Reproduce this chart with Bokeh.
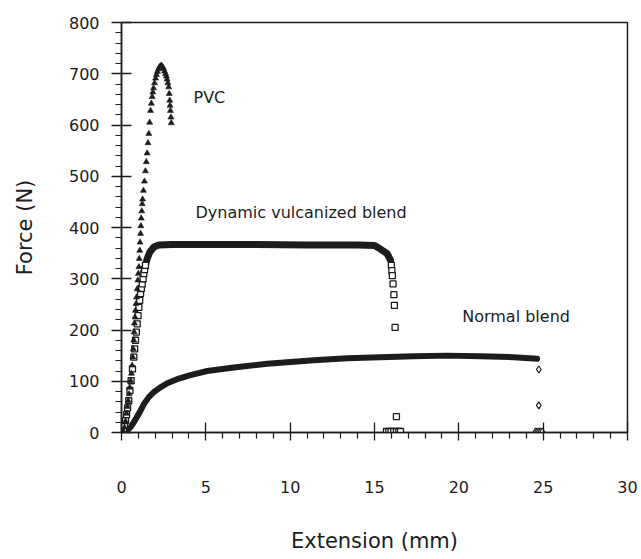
from bokeh.plotting import figure
from bokeh.models import Range1d, FixedTicker
from bokeh.core.properties import value
from bokeh.embed import file_html
from bokeh.resources import INLINE

# ---------------- data ----------------
x_ticks = [0, 5, 10, 15, 20, 25, 30]
y_ticks = [0, 100, 200, 300, 400, 500, 600, 700, 800]

# PVC (triangles)
pvc_x = [0.05, 0.10, 0.18, 0.24, 0.30, 0.35, 0.40, 0.45, 0.49, 0.54, 0.59, 0.63, 0.67, 0.70,
         0.73, 0.75, 0.77, 0.80, 0.83, 0.86, 0.89, 0.93, 0.97, 1.00, 1.03, 1.05, 1.08, 1.10,
         1.13, 1.15, 1.17, 1.20, 1.23, 1.25, 1.30, 1.36, 1.42, 1.47, 1.52, 1.57, 1.62, 1.67,
         1.72, 1.77, 1.82, 1.86, 1.90, 1.96, 2.02, 2.07, 2.13, 2.19, 2.25, 2.31, 2.37, 2.43,
         2.49, 2.55, 2.61, 2.66, 2.70, 2.75, 2.80, 2.83, 2.86, 2.88, 2.90, 2.93, 2.95]
pvc_y = [0, 3, 10, 22, 37, 50, 62, 75, 88, 101, 115, 131, 147, 163,
         180, 196, 213, 225, 238, 251, 264, 280, 297, 310, 323, 339, 355, 371,
         388, 403, 418, 432, 446, 455, 472, 490, 510, 528, 545, 565, 583, 605,
         628, 642, 655, 664, 672, 682, 691, 698, 704, 709, 713, 715, 716, 714,
         710, 705, 700, 695, 689, 682, 674, 661, 648, 638, 628, 615, 604]

# Dynamic vulcanized blend: rising part (open squares)
dyn_rise_x = [0.05, 0.12, 0.18, 0.24, 0.30, 0.36, 0.43, 0.50, 0.57, 0.65, 0.73, 0.78, 0.83,
              0.88, 0.93, 0.98, 1.03, 1.08, 1.13, 1.18, 1.23, 1.28, 1.32, 1.37, 1.42]
dyn_rise_y = [0, 6, 14, 23, 35, 48, 62, 82, 101, 124, 147, 163, 180,
              196, 212, 228, 244, 258, 271, 281, 290, 300, 310, 318, 326]
# dense band (plateau)
dyn_band_x = [1.42, 1.52, 1.68, 1.92, 2.21, 3.0, 5.0, 8.0, 11.0, 14.0, 15.0, 15.35, 15.75, 15.95]
dyn_band_y = [326, 339, 352, 362, 366, 367, 367, 367, 366, 366, 365, 358, 349, 336]
# failure drop (open squares)
dyn_drop_x = [16.00, 16.03, 16.06, 16.10, 16.15, 16.18, 16.22, 16.30,
              15.71, 15.85, 15.98, 16.14, 16.30, 16.44, 16.54]
dyn_drop_y = [326, 316, 306, 290, 269, 248, 205, 31,
              2, 2, 2, 2, 2, 2, 2]

# Normal blend: dense band (diamonds)
nb_band_x = [0.20, 0.34, 0.53, 0.73, 0.93, 1.13, 1.32, 1.62, 1.92, 2.31, 2.71, 3.30, 4.09,
             5.08, 6.66, 8.64, 10.61, 11.40, 13.38, 15.35, 17.33, 19.31, 21.28, 23.25, 24.64]
nb_band_y = [2, 4, 10, 20, 31, 43, 55, 69, 79, 88, 96, 104, 112,
             120, 127, 134, 139, 141, 145, 147, 149, 150, 149, 147, 144]
# failure drop (diamonds)
nb_drop_x = [24.74, 24.74, 24.55, 24.65, 24.75, 24.85, 24.95]
nb_drop_y = [123, 53, 2, 2, 2, 2, 2]

labels_text = ["PVC", "Dynamic vulcanized blend", "Normal blend"]
labels_x = [4.27, 4.39, 20.2]
labels_y = [654, 429, 226]

# ---------------- figure ----------------
FONT = "DejaVu Sans"
INK = "#1c1c1c"

p = figure(width=641, height=559,
           x_range=Range1d(0, 30), y_range=Range1d(0, 800),
           output_backend="svg", toolbar_location=None,
           min_border_left=121, min_border_right=14,
           min_border_top=22, min_border_bottom=127)

p.background_fill_color = "white"
p.border_fill_color = "white"
p.grid.visible = False
p.outline_line_color = INK
p.outline_line_width = 1.5

x_minor = [i for i in range(0, 31) if i % 5 != 0]
y_minor = [i for i in range(0, 801, 20) if i % 100 != 0]
p.xaxis.ticker = FixedTicker(ticks=x_ticks, minor_ticks=x_minor)
p.yaxis.ticker = FixedTicker(ticks=y_ticks, minor_ticks=y_minor)

for ax in (p.xaxis[0], p.yaxis[0]):
    ax.axis_line_color = INK
    ax.axis_line_width = 1.5
    ax.major_tick_line_color = INK
    ax.major_tick_line_width = 1.3
    ax.minor_tick_line_color = INK
    ax.minor_tick_line_width = 1.2
    ax.major_label_text_font = FONT
    ax.major_label_text_font_size = "16px"
    ax.major_label_text_color = INK
    ax.axis_label_text_font = FONT
    ax.axis_label_text_font_size = "21px"
    ax.axis_label_text_font_style = "normal"
    ax.axis_label_text_color = INK

p.xaxis.axis_label = "Extension (mm)"
p.yaxis.axis_label = "Force (N)"

p.xaxis.major_tick_in = 10
p.xaxis.major_tick_out = 8
p.xaxis.minor_tick_in = 0
p.xaxis.minor_tick_out = 6
p.xaxis.major_label_standoff = 40
p.xaxis.axis_label_standoff = 33

p.yaxis.major_tick_in = 10
p.yaxis.major_tick_out = 10
p.yaxis.minor_tick_in = 0
p.yaxis.minor_tick_out = 6
p.yaxis.major_label_standoff = 12
p.yaxis.axis_label_standoff = 29

# dense bands
p.line(dyn_band_x, dyn_band_y, line_color=INK, line_width=7, line_cap="round", line_join="round")
p.line(nb_band_x, nb_band_y, line_color=INK, line_width=6, line_cap="round", line_join="round")

# markers
p.scatter(dyn_rise_x, dyn_rise_y, marker="square", size=6,
          fill_color="white", line_color=INK, line_width=1.3)
p.scatter(dyn_drop_x, dyn_drop_y, marker="square", size=6,
          fill_color="white", line_color=INK, line_width=1.3)
p.scatter(nb_drop_x, nb_drop_y, marker="diamond", size=7,
          fill_color="white", line_color=INK, line_width=1.2)
p.scatter(pvc_x, pvc_y, marker="triangle", size=6,
          fill_color=INK, line_color=INK, line_width=0.6)

p.text(labels_x, labels_y, text=labels_text, text_font=value(FONT),
       text_font_size="16px", text_color=INK,
       text_align="left", text_baseline="middle")

open("out.html", "w").write(file_html(p, INLINE))
